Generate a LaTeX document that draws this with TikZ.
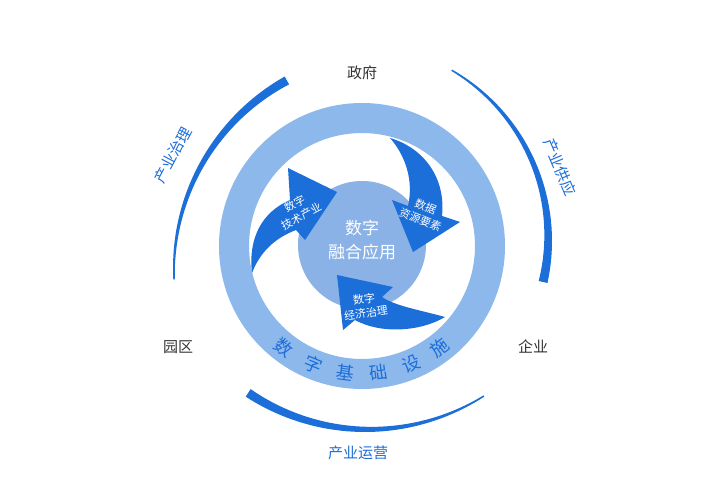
\documentclass[tikz,border=0pt]{standalone}
\usepackage{fontspec}
\setmainfont{Noto Sans CJK SC}
\definecolor{dk}{HTML}{1C6ED8}
\definecolor{lt}{HTML}{8DB8EC}
\definecolor{lc}{HTML}{8AB2E6}
\definecolor{gr}{HTML}{333333}
\tikzset{
  outer/.style={text=gr,font=\fontsize{15}{15}\selectfont},
  arclab/.style={text=dk,font=\fontsize{15}{15}\selectfont},
  arrlab/.style={text=white,font=\fontsize{11}{14}\selectfont,align=center,inner sep=1pt},
  ring/.style={text=dk,font=\fontsize{18}{18}\selectfont}
}
\begin{document}
\begin{tikzpicture}[x=1pt,y=-1pt]
\useasboundingbox (0,0) rectangle (720,500);
\fill[white] (0,0) rectangle (720,500);
% light ring
\fill[lt,even odd rule] (362,246) circle[radius=143] (362,246) circle[radius=113];
\fill[lc] (362,245) circle[radius=64];
% outer crescents
\fill[dk] plot[domain=-119.5:-183,samples=50] ({393+220*cos(\x)},{268+220*sin(\x)})
  -- plot[domain=-183:-119.5,samples=50] ({393+(220-(1.5+7.5*(\x+183)/63.5))*cos(\x)},{268+(220-(1.5+7.5*(\x+183)/63.5))*sin(\x)}) -- cycle;
\fill[dk] plot[domain=-60.5:12.3,samples=50] ({355+197*cos(\x)},{241+197*sin(\x)})
  -- plot[domain=12.3:-60.5,samples=50] ({355+(197-(1.5+7.5*(\x+60.5)/72.8))*cos(\x)},{241+(197-(1.5+7.5*(\x+60.5)/72.8))*sin(\x)}) -- cycle;
\fill[dk] plot[domain=57:123,samples=50] ({365+219*cos(\x)},{213+219*sin(\x)})
  -- plot[domain=123:57,samples=50] ({365+(219-(1.5+7.5*(\x-57)/66))*cos(\x)},{213+(219-(1.5+7.5*(\x-57)/66))*sin(\x)}) -- cycle;
% curved arrows
\fill[dk] (252,273) .. controls (248,238) and (262,212) .. (290,200) -- (288,168) -- (337,192) -- (305,240) -- (296,230) .. controls (275,238) and (260,252) .. (252,273) -- cycle;
\fill[dk] (390,138) .. controls (424,148) and (446,178) .. (442,216) -- (460,222) -- (413,252) -- (392,200) -- (408,206) .. controls (414,180) and (405,155) .. (390,138) -- cycle;
\fill[dk] (445,317) .. controls (420,310) and (395,306) .. (382,297) -- (393,287) -- (337,275) -- (343,330) -- (355,320) .. controls (380,334) and (420,332) .. (445,317) -- cycle;
% texts
\node[text=white,font=\fontsize{17}{24}\selectfont,align=center] (c) at (362,240) {数字\\融合应用};
\node[arrlab,rotate=28] (a1) at (298,210) {数字\\技术产业};
\node[arrlab,rotate=-22] (a2) at (423,213) {数据\\资源要素};
\node[arrlab,rotate=8] (a3) at (365,306) {数字\\经济治理};
\node[outer] (zf) at (362,73) {政府};
\node[outer] (yq) at (178,347) {园区};
\node[outer] (qy) at (533,347) {企业};
\node[arclab] (yy) at (358,453) {产业运营};
\node[arclab,rotate=62] (zl) at (173,155) {产业治理};
\node[arclab,rotate=-67] (gy) at (560,167) {产业供应};
\foreach \c [count=\i] in {数,字,基,础,设,施}{
  \pgfmathsetmacro{\t}{127.5-15*(\i-1)}
  \node[ring,rotate={90-\t}] (r\i) at ({362+128*cos(\t)},{246+128*sin(\t)}) {\c};
}
\end{tikzpicture}
\end{document}
